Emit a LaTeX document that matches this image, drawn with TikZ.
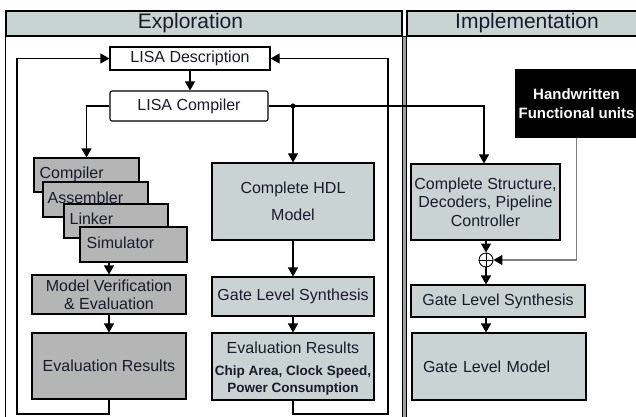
\documentclass[tikz,border=0pt]{standalone}
\usepackage{fontspec}
\setmainfont{Liberation Sans}
\usetikzlibrary{arrows.meta}

\definecolor{hdrfill}{HTML}{C8D4D2}
\definecolor{boxfill}{HTML}{C9D3D3}
\definecolor{toolfill}{HTML}{B5B5B5}
\definecolor{txt}{HTML}{1A1A2E}

\tikzset{
  every node/.style={text=txt},
  base/.style={draw=black, line width=1.1pt, inner sep=0pt, font=\fontsize{16}{19}\selectfont},
  hdr/.style={base, fill=hdrfill},
  hdrtext/.style={inner sep=0pt, font=\fontsize{21}{24}\selectfont},
  plain/.style={base, fill=white},
  light/.style={base, fill=boxfill},
  tool/.style={base, fill=toolfill},
  tooltext/.style={anchor=base west, inner sep=0pt, font=\fontsize{16}{19}\selectfont},
  wire/.style={draw=black, line width=1.1pt},
  arr/.style={wire, -{Triangle[length=9pt,width=10pt]}},
}

\begin{document}
\begin{tikzpicture}[x=1pt,y=-1pt]
\useasboundingbox (0,0) rectangle (636,416);
\clip (0,0) rectangle (636,416);

% --- panels --------------------------------------------------------------
\node[hdr, minimum width=396, minimum height=25] (expHdr) at (204,23.5) {};
\node[hdrtext] (expHdrT) at (190.5,23.5) {Exploration};
\draw[wire] (expHdr.south west) -- ++(0,400);
\draw[line width=0.8pt, fill=gray!75] (402,36) rectangle (406,430);
\node[hdr, minimum width=240, minimum height=25] (impHdr) at (527,23.5) {};
\node[hdrtext] (impHdrT) at (527,23.5) {Implementation};

% --- exploration: description and compiler -------------------------------
\node[plain, minimum width=160, minimum height=23] (desc) at (190,58.5) {LISA Description};
\node[plain, rounded corners=2pt, minimum width=158, minimum height=30] (lcomp) at (189,106) {LISA Compiler};

% --- generated software tools (stacked) ----------------------------------
\node[tool, minimum width=105, minimum height=34] (tComp) at (86.5,175) {};
\node[tooltext] (tCompT) at ([xshift=6pt,yshift=14.5pt]tComp.south west) {Compiler};
\node[tool, minimum width=105, minimum height=35] (tAsm) at (95.5,199.5) {};
\node[tooltext] (tAsmT) at ([xshift=5pt,yshift=14.5pt]tAsm.south west) {Assembler};
\node[tool, minimum width=104, minimum height=34] (tLink) at (116,221) {};
\node[tooltext] (tLinkT) at ([xshift=6pt,yshift=14.5pt]tLink.south west) {Linker};
\node[tool, minimum width=107, minimum height=35] (tSim) at (133.5,244.5) {};
\node[tooltext] (tSimT) at ([xshift=7pt,yshift=14.5pt]tSim.south west) {Simulator};

\node[tool, minimum width=154, minimum height=39, align=center] (mv) at (109,294.5) {Model Verification\\[-1pt]\& Evaluation};
\node[tool, minimum width=154, minimum height=66] (evalL) at (109,366) {Evaluation Results};

% --- exploration: hardware path ------------------------------------------
\node[light, minimum width=162, minimum height=77, align=center] (hdl) at (293,201.5) {Complete HDL\\[8pt]Model};
\node[light, minimum width=162, minimum height=39] (glsM) at (293,296.5) {Gate Level Synthesis};
\node[light, minimum width=162, minimum height=67] (evalM) at (293,366.5) {};
\node[inner sep=0pt, font=\fontsize{16}{19}\selectfont] (evalMT) at (293,348) {Evaluation Results};
\node[inner sep=0pt, align=center, font=\bfseries\fontsize{13.5}{17}\selectfont] (evalMD) at (293,380.5) {Chip Area, Clock Speed,\\Power Consumption};

% --- implementation ------------------------------------------------------
\node[base, fill=black, text=white, align=center, font=\bfseries\fontsize{15}{19}\selectfont,
      minimum width=121, minimum height=67] (hand) at (576.5,103.5) {Handwritten\\Functional units};
\node[light, minimum width=149, minimum height=76, align=center] (struct) at (485.5,202)
  {Complete Structure,\\[-0.5pt]Decoders, Pipeline\\[-0.5pt]Controller};
\node[draw=black, circle, line width=0.9pt, fill=white, minimum size=14pt, inner sep=0pt] (circ) at (486,260) {};
\draw[line width=0.9pt] (circ.north) -- (circ.south) (circ.west) -- (circ.east);
\node[light, minimum width=174, minimum height=32] (glsR) at (498,301) {Gate Level Synthesis};
\node[light, minimum width=174, minimum height=67, text width=152, align=left] (glm) at (499,366.5) {Gate Level Model};

% --- connectors ----------------------------------------------------------
\draw[arr] (desc.south) -- (desc.south |- lcomp.north);
\draw[arr] (lcomp.west) -| (tComp.north);
\coordinate (split) at (lcomp.east -| hdl.north);
\draw[wire] (lcomp.east) -- (split);
\fill (split) circle (2.6);
\draw[arr] (split) -- (hdl.north);
\draw[arr] (split) -| ([xshift=-1.5pt]struct.north);
\draw[arr] (hdl.south) -- (glsM.north);
\draw[arr] (glsM.south) -- (evalM.north);
\draw[arr] (mv.north |- tSim.south) -- (mv.north);
\draw[arr] (mv.south) -- (evalL.north);

\coordinate (loopL) at (17,414);
\coordinate (loopR) at (388,414);
\draw[arr] (evalL.south) |- (loopL) |- (desc.west);
\draw[arr] (evalM.south) |- (loopR) |- (desc.east);

\draw[arr] (struct.south -| circ.north) -- (circ.north);
\draw[arr] (circ.south) -- (circ.south |- glsR.north);
\draw[arr] (circ |- glsR.south) -- (circ |- glm.north);
\draw[line width=1.3pt, draw=gray, -{Triangle[length=9pt,width=10pt,color=black]}] (hand.south) |- (circ.east);
\end{tikzpicture}
\end{document}
